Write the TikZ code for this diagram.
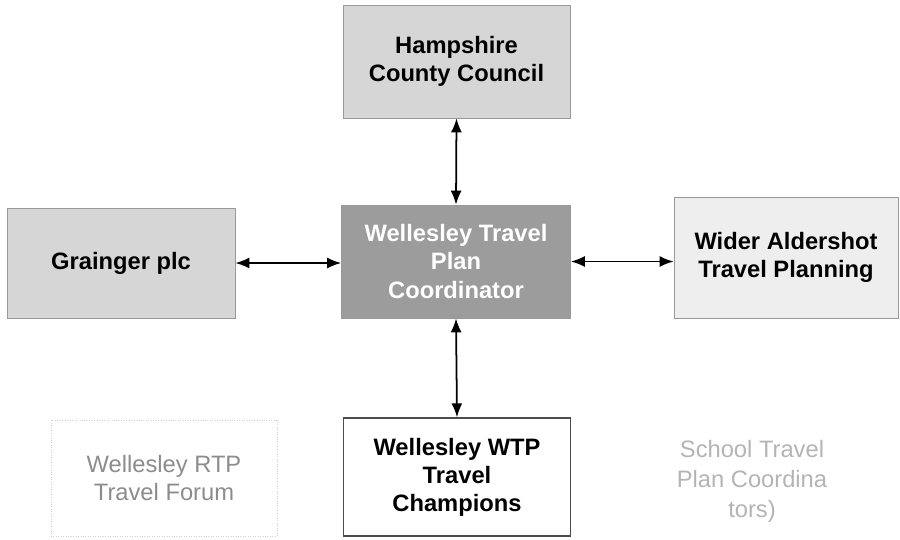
\documentclass[tikz,border=0pt]{standalone}
\usepackage{fontspec}
\setmainfont{Liberation Sans}
\usepackage{tikz}
\usetikzlibrary{arrows.meta}

\definecolor{boxgrey}{HTML}{D6D6D6}
\definecolor{darkbox}{HTML}{9C9C9C}
\definecolor{paleBox}{HTML}{EEEEEE}
\definecolor{faint}{HTML}{8C8C8C}
\definecolor{fainter}{HTML}{B4B4B4}

\tikzset{
	party/.style={draw=gray!80, thin, align=center, inner sep=2pt,
		font=\fontsize{13.5}{16}\selectfont\bfseries},
	link/.style={{Latex[length=2.8mm,width=2.2mm]}-{Latex[length=2.8mm,width=2.2mm]}, line width=1pt}
}

\begin{document}
\begin{tikzpicture}[x=0.02cm, y=-0.02cm]
			\useasboundingbox (0,0) rectangle (900,539);

			\node	(hcc) at (456.5,61.5) [party, fill=boxgrey, minimum width=4.54cm, minimum height=2.26cm] {Hampshire\\County Council};
			\node	(coord) at (456,261.5) [party, fill=darkbox, text=white, minimum width=4.58cm, minimum height=2.26cm] {Wellesley Travel\\Plan\\Coordinator};
			\node	(gpl) at (121,263) [party, fill=boxgrey, minimum width=4.56cm, minimum height=2.2cm] {Grainger plc};
			\node	(wap) at (786,257.5) [party, fill=paleBox, minimum width=4.48cm, minimum height=2.42cm] {Wider Aldershot\\Travel Planning};
			\node	(wtp) at (457,477) [party, draw=gray!60!black, line width=0.8pt, fill=white, minimum width=4.54cm, minimum height=2.36cm] {Wellesley WTP\\Travel\\Champions};
			\node	(rtp) at (164,478) [party, draw=gray!35, densely dotted, font=\fontsize{13.5}{16}\selectfont, text=faint, minimum width=4.52cm, minimum height=2.32cm] {Wellesley RTP\\Travel Forum};
			\node	(stp) at (752,481) [align=center, text=fainter, font=\fontsize{13.5}{17}\selectfont] {School Travel\\Plan Coordina\\tors)};

			\draw[link] (hcc.south) -- (coord.north);
			\draw[link] (gpl.east) -- (gpl.east -| coord.west);
			\draw[link] (coord.east) -- (coord.east -| wap.west);
			\draw[link] (coord.south) -- (wtp.north);
		\end{tikzpicture}
\end{document}
